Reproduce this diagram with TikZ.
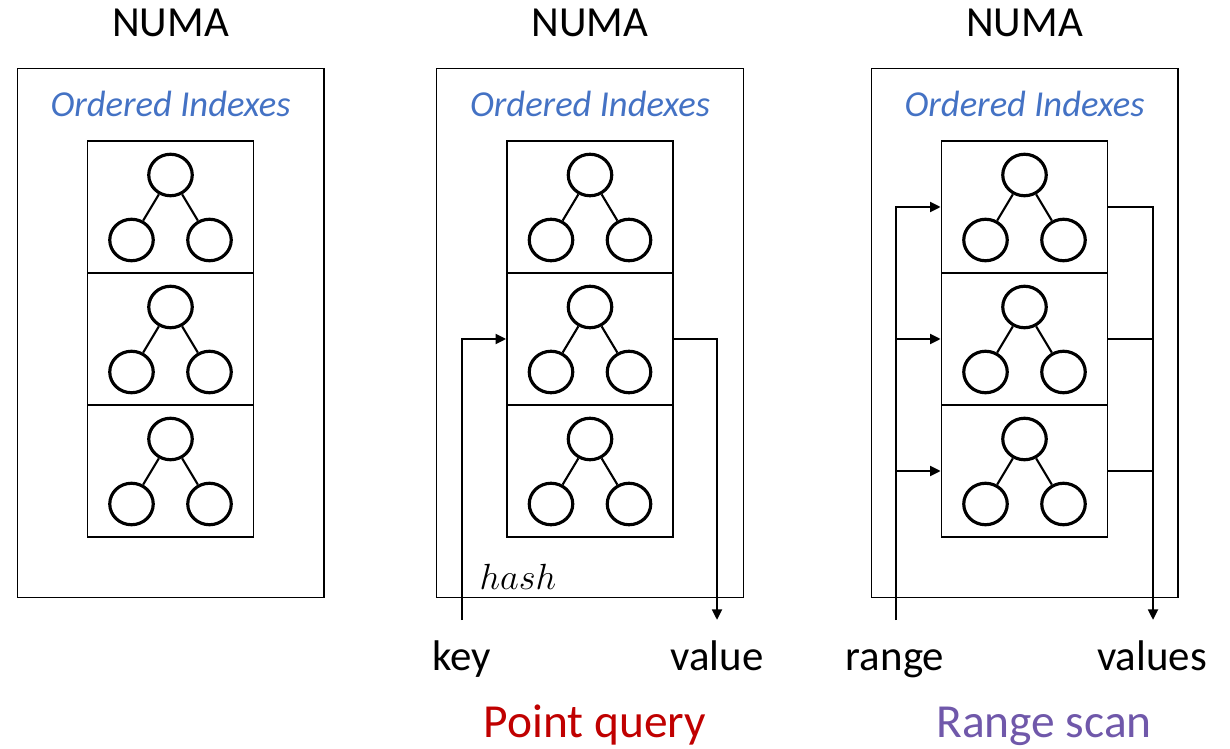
\documentclass[tikz,border=0pt]{standalone}
\usepackage{fontspec}
\setmainfont{Carlito}
\usetikzlibrary{arrows.meta,shapes.geometric}
\definecolor{idxblue}{RGB}{68,114,196}
\definecolor{pqred}{RGB}{192,0,0}
\definecolor{rspurple}{RGB}{112,88,170}
\tikzset{
  numabox/.style={draw, line width=0.6pt, minimum width=6.14cm, minimum height=10.6cm, inner sep=0pt},
  idxbox/.style={draw, line width=0.9pt, minimum width=3.32cm, minimum height=2.64cm, inner sep=0pt},
  treenode/.style={draw, ellipse, line width=1.8pt, minimum width=0.87cm, minimum height=0.83cm, inner sep=0pt},
  treeedge/.style={line width=1.2pt},
  flow/.style={line width=1.5pt},
  flowtip/.style={-{Triangle[length=6pt,width=5.5pt]}},
  bigtext/.style={font=\fontsize{24.4}{28}\selectfont, anchor=base},
  idxtext/.style={font=\fontsize{20.8}{24}\selectfont\itshape, text=idxblue},
  titletext/.style={font=\fontsize{27}{30}\selectfont, anchor=base}
}

\begin{document}
\begin{tikzpicture}[x=0.02cm, y=-0.02cm]
		%%%%% START %%%%%
		\useasboundingbox (0,0) rectangle (1230,749);
		
		\foreach \p/\cx in {1/170.5, 2/590, 3/1024.5} {
			\node[bigtext] (numa\p) at (\cx, 37) {NUMA};
			\node[numabox] (box\p) at (\cx, 333) {};
			\node[idxtext] (idx\p) at (\cx, 104) {Ordered Indexes};
			\foreach \k/\cy in {1/207, 2/339, 3/471} {
				\node[idxbox] (b\p\k) at (\cx, \cy) {};
				\node[treenode] (r\p\k) at (\cx, {\cy-32}) {};
				\node[treenode] (l\p\k) at ({\cx-39}, {\cy+33}) {};
				\node[treenode] (s\p\k) at ({\cx+39}, {\cy+33}) {};
				\draw[treeedge] (r\p\k) -- (l\p\k);
				\draw[treeedge] (r\p\k) -- (s\p\k);
			}
		}
		
		% point query
		\node[bigtext] (key) at (462, 670) {key};
		\node[bigtext] (value) at (717, 670) {value};
		\node[font=\fontsize{20}{23}\selectfont] (hash) at (518, 577) {$hash$};
		\node[titletext, text=pqred] (pq) at (595, 737) {Point query};
		\coordinate (keyin) at (462, 620);
		\coordinate (valout) at (717, 620);
		\draw[flow, flowtip] (keyin) |- (b22.west);
		\draw[flow, flowtip] (b22.east) -| (valout);
		
		% range scan
		\node[bigtext] (range) at (895, 670) {range};
		\node[bigtext] (values) at (1152, 670) {values};
		\node[titletext, text=rspurple] (rs) at (1044, 737) {Range scan};
		\coordinate (rangein) at (896, 620);
		\coordinate (valsout) at (1153, 620);
		\draw[flow, flowtip] (rangein) |- (b31.west);
		\draw[flow, flowtip] (rangein |- b32.west) -- (b32.west);
		\draw[flow, flowtip] (rangein |- b33.west) -- (b33.west);
		\draw[flow, flowtip] (b31.east) -| (valsout);
		\draw[flow] (b32.east) -- (valsout |- b32.east);
		\draw[flow] (b33.east) -- (valsout |- b33.east);
		%%%%% END %%%%%
\end{tikzpicture}
\end{document}
